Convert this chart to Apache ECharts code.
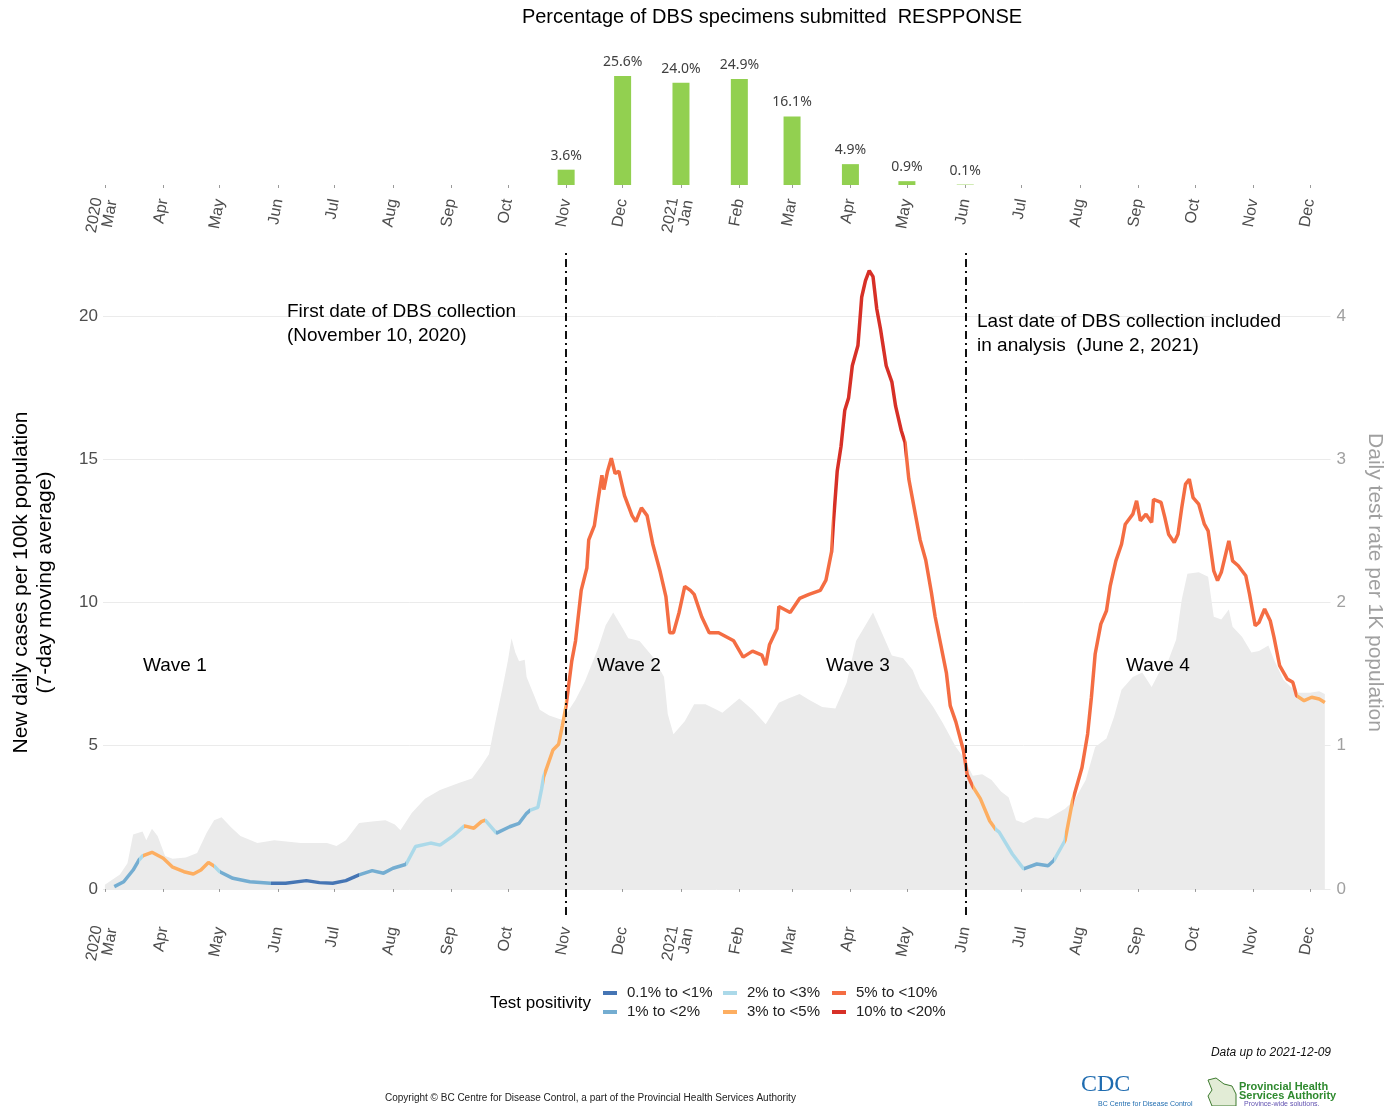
<!DOCTYPE html>
<html><head><meta charset="utf-8">
<script src="https://cdn.jsdelivr.net/npm/echarts@6/dist/echarts.min.js"></script>
<style>html,body{margin:0;padding:0;background:#fff}#c{width:1400px;height:1106px}</style>
</head><body><div id="c"></div>
<script>
// ---------------- DATA ----------------
const monthTicks = ['2020-03-01','2020-04-01','2020-05-01','2020-06-01','2020-07-01','2020-08-01','2020-09-01','2020-10-01','2020-11-01','2020-12-01',
  '2021-01-01','2021-02-01','2021-03-01','2021-04-01','2021-05-01','2021-06-01','2021-07-01','2021-08-01','2021-09-01','2021-10-01','2021-11-01','2021-12-01'];
const monthNames = ['Jan','Feb','Mar','Apr','May','Jun','Jul','Aug','Sep','Oct','Nov','Dec'];

const dbsMonths = ['2020-11-01','2020-12-01','2021-01-01','2021-02-01','2021-03-01','2021-04-01','2021-05-01','2021-06-01'];
const dbsPct = [3.6, 25.6, 24.0, 24.9, 16.1, 4.9, 0.9, 0.1];

const caseDates = ['2020-03-06','2020-03-11','2020-03-16','2020-03-19','2020-03-21','2020-03-26','2020-04-01','2020-04-06','2020-04-12','2020-04-17',
  '2020-04-21','2020-04-25','2020-04-28','2020-05-01','2020-05-08','2020-05-17','2020-05-28','2020-06-05','2020-06-16','2020-06-23',
  '2020-06-30','2020-07-07','2020-07-14','2020-07-21','2020-07-27','2020-08-01','2020-08-05','2020-08-08','2020-08-13','2020-08-21',
  '2020-08-26','2020-09-02','2020-09-08','2020-09-13','2020-09-17','2020-09-19','2020-09-25','2020-10-02','2020-10-07','2020-10-11',
  '2020-10-13','2020-10-17','2020-10-19','2020-10-20','2020-10-25','2020-10-28','2020-10-30','2020-11-01','2020-11-04','2020-11-06',
  '2020-11-09','2020-11-12','2020-11-13','2020-11-16','2020-11-18','2020-11-20','2020-11-21','2020-11-23','2020-11-25','2020-11-27',
  '2020-11-29','2020-12-02','2020-12-06','2020-12-08','2020-12-11','2020-12-14','2020-12-17','2020-12-21','2020-12-24','2020-12-26',
  '2020-12-28','2020-12-31','2021-01-03','2021-01-06','2021-01-08','2021-01-12','2021-01-16','2021-01-21','2021-01-23','2021-01-29',
  '2021-02-03','2021-02-08','2021-02-13','2021-02-15','2021-02-17','2021-02-21','2021-02-22','2021-02-28','2021-03-05','2021-03-10',
  '2021-03-16','2021-03-19','2021-03-22','2021-03-23','2021-03-25','2021-03-27','2021-03-29','2021-03-31','2021-04-02','2021-04-05',
  '2021-04-07','2021-04-09','2021-04-11','2021-04-13','2021-04-15','2021-04-17','2021-04-20','2021-04-23','2021-04-25','2021-04-28',
  '2021-04-30','2021-05-02','2021-05-06','2021-05-08','2021-05-11','2021-05-14','2021-05-16','2021-05-19','2021-05-22','2021-05-24',
  '2021-05-27','2021-05-31','2021-06-02','2021-06-05','2021-06-09','2021-06-14','2021-06-17','2021-06-19','2021-06-26','2021-07-02',
  '2021-07-09','2021-07-15','2021-07-18','2021-07-24','2021-07-28','2021-08-02','2021-08-05','2021-08-07','2021-08-09','2021-08-12',
  '2021-08-15','2021-08-17','2021-08-20','2021-08-23','2021-08-25','2021-08-29','2021-08-31','2021-09-02','2021-09-05','2021-09-08',
  '2021-09-09','2021-09-13','2021-09-15','2021-09-17','2021-09-20','2021-09-22','2021-09-24','2021-09-26','2021-09-28','2021-09-30',
  '2021-10-03','2021-10-06','2021-10-08','2021-10-11','2021-10-13','2021-10-15','2021-10-19','2021-10-21','2021-10-24','2021-10-28',
  '2021-10-30','2021-11-02','2021-11-04','2021-11-07','2021-11-10','2021-11-12','2021-11-15','2021-11-19','2021-11-22','2021-11-24',
  '2021-11-28','2021-12-02','2021-12-06','2021-12-09'];
const caseValues = [0.08,0.25,0.66,1.00,1.15,1.28,1.07,0.76,0.60,0.52,
  0.66,0.92,0.80,0.60,0.37,0.25,0.20,0.20,0.29,0.22,
  0.20,0.29,0.49,0.64,0.55,0.72,0.80,0.86,1.48,1.60,
  1.53,1.85,2.20,2.12,2.35,2.40,1.95,2.17,2.29,2.64,
  2.75,2.85,3.50,3.90,4.85,5.05,5.70,6.40,7.96,8.66,
  10.42,11.20,12.18,12.68,13.60,14.44,13.94,14.58,15.03,14.50,
  14.58,13.73,13.03,12.82,13.30,13.03,12.04,11.06,10.20,8.94,
  8.94,9.65,10.56,10.42,10.28,9.50,8.94,8.94,8.87,8.66,
  8.09,8.30,8.16,7.81,8.52,9.08,9.86,9.65,10.14,10.28,
  10.42,10.78,11.77,12.82,14.59,15.44,16.71,17.13,18.26,18.97,
  20.66,21.23,21.58,21.37,20.24,19.53,18.26,17.70,16.85,16.00,
  15.58,14.31,12.90,12.19,11.48,10.35,9.50,8.52,7.53,6.40,
  5.83,4.84,4.00,3.57,3.15,2.37,2.09,1.98,1.22,0.70,
  0.87,0.81,0.99,1.69,3.08,4.24,5.41,6.69,8.20,9.24,
  9.71,10.58,11.45,12.03,12.73,13.08,13.55,12.85,13.08,12.79,
  13.60,13.49,12.97,12.38,12.09,12.38,13.31,14.13,14.30,13.66,
  13.43,12.73,12.50,11.10,10.76,11.05,12.15,11.45,11.28,10.93,
  10.29,9.19,9.30,9.77,9.36,8.78,7.79,7.33,7.21,6.74,
  6.57,6.69,6.63,6.51];
// test positivity class index for each case point (index into positivityLabels)
const casePositivity = [1,1,1,2,3,3,3,3,3,3,
  3,3,2,1,1,1,0,0,0,0,
  0,0,1,1,1,1,1,2,2,2,
  2,2,3,3,3,2,1,1,1,1,
  2,2,2,3,3,3,3,4,4,4,
  4,4,4,4,4,4,4,4,4,4,
  4,4,4,4,4,4,4,4,4,4,
  4,4,4,4,4,4,4,4,4,4,
  4,4,4,4,4,4,4,4,4,4,
  4,4,4,5,5,5,5,5,5,5,
  5,5,5,5,5,5,5,5,5,5,
  4,4,4,4,4,4,4,4,4,4,
  4,4,4,3,3,3,2,2,2,1,
  1,1,2,3,4,4,4,4,4,4,
  4,4,4,4,4,4,4,4,4,4,
  4,4,4,4,4,4,4,4,4,4,
  4,4,4,4,4,4,4,4,4,4,
  4,4,4,4,4,4,4,4,4,3,
  3,3,3,3];

const testDates = ['2020-03-01','2020-03-09','2020-03-13','2020-03-16','2020-03-21','2020-03-23','2020-03-26','2020-03-29','2020-04-02','2020-04-06',
  '2020-04-13','2020-04-19','2020-04-24','2020-04-28','2020-05-02','2020-05-07','2020-05-12','2020-05-21','2020-05-30','2020-06-13',
  '2020-06-27','2020-07-02','2020-07-07','2020-07-14','2020-07-21','2020-07-28','2020-08-02','2020-08-05','2020-08-11','2020-08-18',
  '2020-08-26','2020-09-05','2020-09-12','2020-09-17','2020-09-21','2020-09-24','2020-09-28','2020-10-01','2020-10-03','2020-10-05',
  '2020-10-07','2020-10-10','2020-10-11','2020-10-15','2020-10-18','2020-10-23','2020-10-30','2020-11-06','2020-11-11','2020-11-18',
  '2020-11-22','2020-11-26','2020-12-01','2020-12-04','2020-12-10','2020-12-17','2020-12-23','2020-12-25','2020-12-28','2021-01-03',
  '2021-01-08','2021-01-14','2021-01-20','2021-01-23','2021-02-01','2021-02-08','2021-02-15','2021-02-22','2021-02-27','2021-03-05',
  '2021-03-10','2021-03-17','2021-03-24','2021-03-30','2021-04-04','2021-04-09','2021-04-13','2021-04-18','2021-04-23','2021-04-29',
  '2021-05-04','2021-05-08','2021-05-15','2021-05-20','2021-05-27','2021-05-31','2021-06-05','2021-06-10','2021-06-15','2021-06-20',
  '2021-06-24','2021-06-28','2021-07-02','2021-07-08','2021-07-15','2021-07-24','2021-07-29','2021-08-04','2021-08-09','2021-08-15',
  '2021-08-19','2021-08-23','2021-08-29','2021-09-03','2021-09-08','2021-09-12','2021-09-17','2021-09-21','2021-09-24','2021-09-27',
  '2021-10-03','2021-10-08','2021-10-11','2021-10-15','2021-10-19','2021-10-21','2021-10-26','2021-10-31','2021-11-04','2021-11-09',
  '2021-11-12','2021-11-17','2021-11-21','2021-11-25','2021-12-01','2021-12-06','2021-12-09'];
const testRates = [0.03,0.10,0.18,0.38,0.40,0.34,0.42,0.37,0.23,0.21,
  0.22,0.25,0.39,0.48,0.50,0.43,0.37,0.32,0.34,0.32,
  0.32,0.30,0.34,0.46,0.47,0.48,0.45,0.41,0.53,0.63,
  0.69,0.74,0.77,0.86,0.94,1.14,1.39,1.59,1.75,1.65,
  1.59,1.60,1.48,1.35,1.25,1.21,1.18,1.32,1.45,1.68,
  1.84,1.93,1.82,1.75,1.73,1.62,1.48,1.22,1.08,1.17,
  1.29,1.29,1.25,1.23,1.33,1.25,1.15,1.30,1.33,1.36,
  1.32,1.27,1.26,1.44,1.73,1.84,1.93,1.78,1.63,1.61,
  1.53,1.40,1.27,1.16,0.99,0.92,0.79,0.80,0.76,0.68,
  0.64,0.48,0.46,0.50,0.49,0.56,0.62,0.76,0.99,1.05,
  1.20,1.39,1.48,1.51,1.41,1.51,1.60,1.74,2.02,2.20,
  2.21,2.18,1.90,1.88,1.95,1.83,1.76,1.65,1.66,1.70,
  1.60,1.46,1.41,1.37,1.37,1.38,1.36];

const positivityLabels = ['0.1% to <1%','1% to <2%','2% to <3%','3% to <5%','5% to <10%','10% to <20%'];
const positivityColors = ['#4575b4','#74add1','#abd9e9','#fdae61','#f46d43','#d73027'];
const dbsLineDates = ['2020-11-01','2021-06-01'];
const xRange = ['2020-02-29','2021-12-12'];

// ---------------- BUILD ----------------
const t = s => new Date(s + 'T00:00:00').getTime();
const xMin = t(xRange[0]), xMax = t(xRange[1]);
const tickVals = monthTicks.map(t);
const FONT = '"Liberation Sans", Arial, sans-serif';

function monthLabel(v) {
  const d = new Date(v);
  const m = d.getMonth();
  const first = (d.getFullYear() === 2020 && m === 2) || m === 0;
  return first ? d.getFullYear() + '\n' + monthNames[m] : monthNames[m];
}

const pieces = [];
let runStart = 0;
for (let i = 1; i <= caseDates.length; i++) {
  if (i === caseDates.length || casePositivity[i] !== casePositivity[runStart]) {
    pieces.push({
      gte: runStart === 0 ? xMin : t(caseDates[runStart]),
      lt: i === caseDates.length ? xMax + 1 : t(caseDates[i]),
      color: positivityColors[casePositivity[runStart]]
    });
    runStart = i;
  }
}

function makeXAxis(gridIndex, offset) {
  return {
    type: 'value', gridIndex, min: xMin, max: xMax, offset, scale: true,
    axisLine: { show: false },
    axisTick: { show: true, length: 3, customValues: tickVals, lineStyle: { color: '#9a9a9a', width: 1 } },
    axisLabel: { customValues: tickVals, rotate: 80, formatter: monthLabel, fontSize: 16, color: '#4d4d4d',
      margin: 7, fontFamily: FONT, lineHeight: 15 },
    splitLine: { show: false }
  };
}

const legendSeries = positivityLabels.map((name, i) => ({
  type: 'line', name, data: [], xAxisIndex: 1, yAxisIndex: 1,
  itemStyle: { color: positivityColors[i] }, lineStyle: { color: positivityColors[i] }
}));

function makeLegend(names, left) {
  return {
    data: names, left, top: 985, orient: 'vertical', icon: 'rect', itemWidth: 14, itemHeight: 4,
    itemGap: 3, selectedMode: false, padding: 0,
    textStyle: { fontSize: 15, color: '#222', fontFamily: FONT, lineHeight: 16, padding: [0, 0, 0, 5] }
  };
}

const txt = (text, x, y, opts = {}) => ({
  type: 'text', x, y, silent: true, z: 100,
  style: Object.assign({ text, fill: '#000', fontSize: 19, fontFamily: FONT, align: 'left', verticalAlign: 'middle' }, opts)
});

const option = {
  animation: false,
  textStyle: { fontFamily: FONT },
  grid: [
    { left: 103, right: 69.5, top: 57.3, bottom: 921 },
    { left: 103, right: 69.5, top: 250, bottom: 191 }
  ],
  xAxis: [ makeXAxis(0, 7), makeXAxis(1, 5) ],
  yAxis: [
    { gridIndex: 0, min: 0, max: 30, show: false },
    { gridIndex: 1, min: -0.91, max: 22.3, position: 'left',
      axisLine: { show: false }, axisTick: { show: false },
      axisLabel: { formatter: v => (v % 5 === 0 ? String(v) : ''), fontSize: 17, color: '#4d4d4d', margin: 5, fontFamily: FONT },
      splitLine: { show: true, showMinLine: false, showMaxLine: false, lineStyle: { color: '#ebebeb', width: 1 } },
      name: 'New daily cases per 100k population\n(7-day moving average)', nameLocation: 'middle', nameRotate: 90, nameGap: 46,
      nameTextStyle: { fontSize: 21, color: '#000', lineHeight: 24, fontFamily: FONT } },
    { gridIndex: 1, min: -0.182, max: 4.46, position: 'right',
      axisLine: { show: false }, axisTick: { show: false },
      axisLabel: { formatter: v => (v % 1 === 0 ? String(v) : ''), fontSize: 17, color: '#a0a0a0', margin: 6, fontFamily: FONT },
      splitLine: { show: false },
      name: 'Daily test rate per 1K population', nameLocation: 'middle', nameRotate: -90, nameGap: 34,
      nameTextStyle: { fontSize: 21, color: '#a0a0a0', fontFamily: FONT } }
  ],
  visualMap: [{ type: 'piecewise', show: false, dimension: 0, seriesIndex: 2, pieces, outOfRange: { color: '#999' } }],
  legend: [
    makeLegend(positivityLabels.slice(0, 2), 603),
    makeLegend(positivityLabels.slice(2, 4), 723),
    makeLegend(positivityLabels.slice(4, 6), 832)
  ],
  series: [
    { type: 'bar', xAxisIndex: 0, yAxisIndex: 0, barWidth: 17,
      data: dbsMonths.map((d, i) => [t(d), dbsPct[i]]),
      itemStyle: { color: '#92d050' },
      label: { show: true, position: 'top', distance: 7, formatter: p => p.value[1].toFixed(1) + '%',
        fontSize: 14, color: '#404040', fontFamily: '"Noto Sans", sans-serif' } },
    { type: 'line', name: 'test rate', xAxisIndex: 1, yAxisIndex: 2, symbol: 'none', z: 1,
      data: testDates.map((d, i) => [t(d), testRates[i]]),
      lineStyle: { width: 0, opacity: 0 }, areaStyle: { color: '#ebebeb', opacity: 1 } },
    { type: 'line', name: 'cases', xAxisIndex: 1, yAxisIndex: 1, symbol: 'none', z: 3,
      data: caseDates.map((d, i) => [t(d), caseValues[i]]),
      lineStyle: { width: 3.5 },
      markLine: { silent: true, symbol: ['none', 'none'], label: { show: false },
        lineStyle: { color: '#111', width: 2, type: [8, 4, 2, 4] },
        data: dbsLineDates.map(d => ({ xAxis: t(d) })) } },
    ...legendSeries
  ],
  graphic: { elements: [
    txt('Percentage of DBS specimens submitted  RESPPONSE', 772, 17, { align: 'center', fontSize: 20 }),
    txt('First date of DBS collection\n(November 10, 2020)', 287, 300, { verticalAlign: 'top', lineHeight: 24 }),
    txt('Last date of DBS collection included\nin analysis  (June 2, 2021)', 977, 310, { verticalAlign: 'top', lineHeight: 24 }),
    txt('Wave 1', 143, 666),
    txt('Wave 2', 597, 666),
    txt('Wave 3', 826, 666),
    txt('Wave 4', 1126, 666),
    txt('Test positivity', 591, 1003, { align: 'right', fontSize: 17 }),
    txt('Data up to 2021-12-09', 1331, 1053, { align: 'right', fontSize: 12, fontStyle: 'italic', fill: '#111' }),
    txt('Copyright \u00a9 BC Centre for Disease Control, a part of the Provincial Health Services Authority', 385, 1098, { fontSize: 10, fill: '#222' }),
    txt('CDC', 1081, 1085, { fontSize: 24, fill: '#1f6cb0', fontFamily: '"Liberation Serif", serif' }),
    txt('BC Centre for Disease Control', 1098, 1104, { fontSize: 7, fill: '#1f6cb0' }),
    { type: 'polygon', silent: true, z: 100, shape: { points: [[1208,1080],[1216,1078],[1224,1084],[1232,1086],[1236,1094],[1236,1106],[1212,1106],[1208,1096],[1212,1090]] },
      style: { fill: '#e2ecd6', stroke: '#3d7a2f', lineWidth: 1 } },
    txt('Provincial Health', 1239, 1087, { fontSize: 11, fontWeight: 'bold', fill: '#2f8a2f' }),
    txt('Services Authority', 1239, 1096, { fontSize: 11, fontWeight: 'bold', fill: '#2f8a2f' }),
    txt('Province-wide solutions.', 1244, 1104, { fontSize: 7, fill: '#6050b0' })
  ] }
};

const chart = echarts.init(document.getElementById('c'), null, { renderer: 'canvas' });
chart.setOption(option);
</script>
</body></html>
